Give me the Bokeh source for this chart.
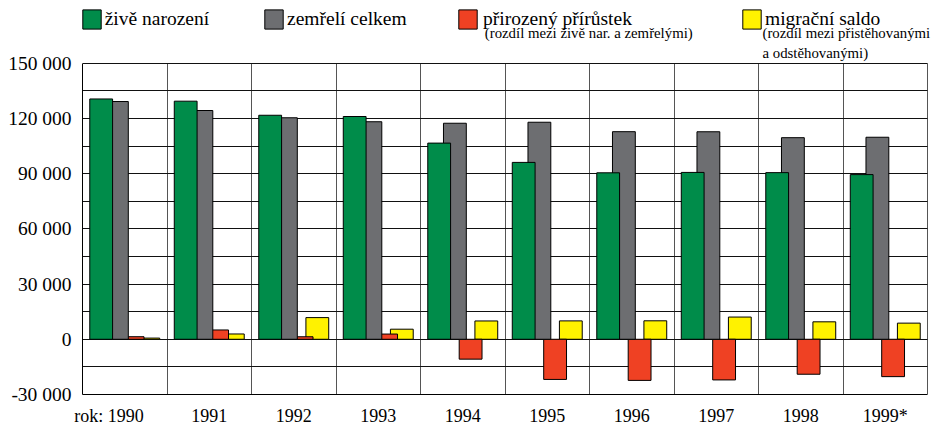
from bokeh.plotting import figure
from bokeh.models import (ColumnDataSource, Range1d, FixedTicker, Legend, LegendItem, Label)
from bokeh.transform import dodge
from bokeh.embed import file_html
from bokeh.resources import INLINE

# ---- data ----
years = ["1990", "1991", "1992", "1993", "1994", "1995", "1996", "1997", "1998", "1999*"]
live_births = [130564, 129354, 121705, 121025, 106579, 96097, 90446, 90657, 90535, 89471]
deaths = [129166, 124290, 120337, 118185, 117373, 117913, 112782, 112744, 109527, 109768]
natural_increase = [1398, 5064, 1368, 2840, -10794, -21816, -22336, -22087, -18992, -20297]
net_migration = [645, 2880, 11781, 5476, 9952, 9999, 10041, 12075, 9488, 8774]

y_ticks = [-30000, 0, 30000, 60000, 90000, 120000, 150000]
y_tick_labels = ["-30 000", "0", "30 000", "60 000", "90 000", "120 000", "150 000"]
grid_step = 15000

legend_main = ["živě narození", "zemřelí celkem", "přirozený přírůstek", "migrační saldo"]
legend_sub_red = "(rozdíl mezi živě nar. a zemřelými)"
legend_sub_yellow = ["(rozdíl mezi přistěhovanými", "a odstěhovanými)"]
axis_prefix = "rok:"

colors = {"green": "#008c4a", "gray": "#6d6e71", "red": "#ef4123", "yellow": "#fff200"}
FONT = "'Liberation Serif', 'DejaVu Serif', serif"

# ---- layout constants (pixels) ----
W, H = 937, 428
LEFT, RIGHT, BOTTOM = 82, 2, 32
TOP_PX = 63                      # space above the 150 000 line, inside the frame
PLOT_PX = H - BOTTOM - TOP_PX    # height of the bar area
CAT_PX = 84.5                    # width of one year's slot
FRAME_W = W - LEFT - RIGHT

n = len(years)
idx = list(range(n))
y_min, y_max = y_ticks[0], y_ticks[-1]
y_top = y_max + (y_max - y_min) * TOP_PX / PLOT_PX
x_lo, x_hi = -0.5, n - 0.5
x_end = x_lo + FRAME_W / CAT_PX

src = ColumnDataSource(dict(x=idx, births=live_births, deaths=deaths,
                            nat=natural_increase, mig=net_migration))

p = figure(width=W, height=H, title=None, output_backend="svg", toolbar_location=None,
           x_range=Range1d(x_lo, x_end), y_range=Range1d(y_min, y_top))
p.min_border_left = LEFT
p.min_border_right = RIGHT
p.min_border_top = 0
p.min_border_bottom = BOTTOM
p.background_fill_color = "white"
p.border_fill_color = "white"
p.outline_line_color = None

bw = 0.27
step = 0.186
offs = [-1.5 * step, -0.5 * step, 0.5 * step, 1.5 * step]

# grids
p.ygrid.ticker = FixedTicker(ticks=list(range(y_min, y_max + 1, grid_step)))
p.ygrid.grid_line_color = "#111111"
p.ygrid.grid_line_width = 1
p.ygrid.cross_bounds = (x_lo, x_hi)
bounds_x = [i + 0.5 for i in idx]          # category separators + right edge
p.xgrid.ticker = FixedTicker(ticks=bounds_x)
p.xgrid.grid_line_color = "#555555"
p.xgrid.grid_line_width = 1
p.xgrid.cross_bounds = (y_min, y_max)

# draw order: yellow, red, gray, green (green on top)
r_y = p.vbar(x=dodge("x", offs[3], range=p.x_range), top="mig", bottom=0, width=bw, source=src,
             fill_color=colors["yellow"], line_color="black", line_width=1)
r_r = p.vbar(x=dodge("x", offs[2], range=p.x_range), top="nat", bottom=0, width=bw, source=src,
             fill_color=colors["red"], line_color="black", line_width=1)
r_g = p.vbar(x=dodge("x", offs[1], range=p.x_range), top="deaths", bottom=0, width=bw, source=src,
             fill_color=colors["gray"], line_color="black", line_width=1)
r_b = p.vbar(x=dodge("x", offs[0], range=p.x_range), top="births", bottom=0, width=bw, source=src,
             fill_color=colors["green"], line_color="black", line_width=1)

# axes
p.yaxis.ticker = FixedTicker(ticks=y_ticks)
p.yaxis.major_label_overrides = {t: l for t, l in zip(y_ticks, y_tick_labels)}
p.yaxis.bounds = (y_min, y_max)
p.xaxis.ticker = FixedTicker(ticks=idx)
p.xaxis.bounds = (x_lo, x_hi)
nbsp = "\u00a0"
x_labels = [axis_prefix + nbsp + years[0] + nbsp * 7] + years[1:]
p.xaxis.major_label_overrides = {i: s for i, s in zip(idx, x_labels)}
for ax in (p.xaxis[0], p.yaxis[0]):
    ax.axis_line_color = "black"
    ax.axis_line_width = 1
    ax.major_tick_line_color = None
    ax.minor_tick_line_color = None
    ax.major_tick_out = 0
    ax.major_tick_in = 0
    ax.minor_tick_out = 0
    ax.major_label_text_font = FONT
    ax.major_label_text_color = "black"
p.yaxis.major_label_text_font_size = "19.5px"
p.yaxis.major_label_standoff = 11
p.xaxis.major_label_text_font_size = "18px"
p.xaxis.major_label_standoff = 11

# legends (one per item, positioned like the original; inside the frame's top strip)
leg_pos = [(-2.3, 363.4, 2), (180, 363.4, 2), (374, 363.4, 4), (658, 363.4, 2)]
for (lx, ly, st), label, r in zip(leg_pos, legend_main, [r_b, r_g, r_r, r_y]):
    leg = Legend(items=[LegendItem(label=label, renderers=[r])], location=(lx, ly),
                 glyph_width=23, glyph_height=24, label_height=24, label_standoff=st,
                 padding=0, margin=0, border_line_color=None, background_fill_alpha=0,
                 label_text_font=FONT, label_text_font_size="19.5px", label_text_color="black")
    p.add_layout(leg)

sub_kw = dict(x_units="screen", y_units="screen", text_font=FONT, text_font_size="14.8px",
              text_color="black", text_baseline="alphabetic")
p.add_layout(Label(x=402.3, y=362, text=legend_sub_red, **sub_kw))
p.add_layout(Label(x=680, y=362, text=legend_sub_yellow[0], **sub_kw))
p.add_layout(Label(x=680, y=341.5, text=legend_sub_yellow[1], **sub_kw))

open("out.html", "w").write(file_html(p, INLINE))
